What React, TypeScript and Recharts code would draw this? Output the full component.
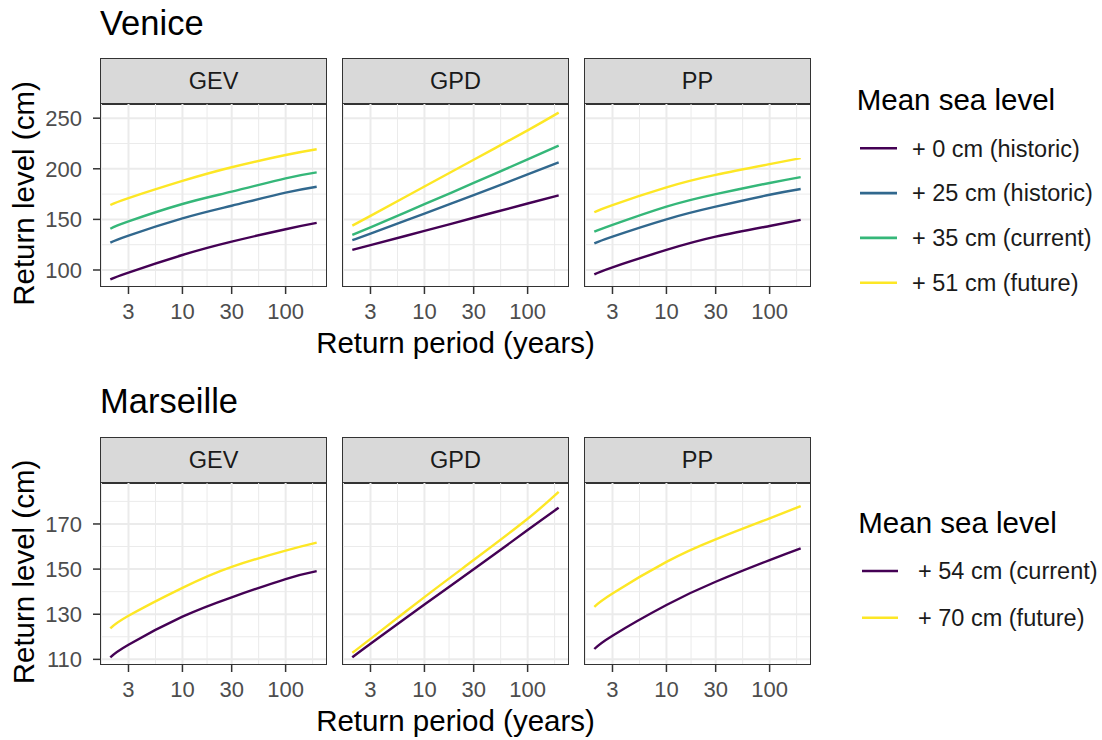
import React from 'react';
import { LineChart, Line, XAxis, YAxis, ReferenceLine } from 'recharts';

// ---------- data ----------
const returnPeriods = [2, 3, 10, 30, 100, 200];
const xTicks = [3, 10, 30, 100];
const facets = ['GEV', 'GPD', 'PP'];

// Venice
const veniceLabels = ['+ 0 cm (historic)', '+ 25 cm (historic)', '+ 35 cm (current)', '+ 51 cm (future)'];
const veniceColors = ['#440154', '#31688E', '#35B779', '#FDE725'];
const veniceGEV0 = [90.8, 97.5, 114.8, 128.0, 140.3, 146.5];
const veniceGEV25 = [127.0, 134.0, 151.0, 163.5, 176.4, 182.3];
const veniceGEV35 = [140.8, 148.0, 165.2, 177.4, 190.6, 196.5];
const veniceGEV51 = [164.2, 171.0, 188.0, 201.5, 213.6, 219.3];
const veniceGPD0 = [119.8, 124.6, 138.6, 151.6, 165.7, 173.8];
const veniceGPD25 = [129.6, 136.0, 155.8, 173.9, 194.5, 206.4];
const veniceGPD35 = [134.6, 142.2, 165.0, 186.0, 209.3, 222.9];
const veniceGPD51 = [143.8, 153.5, 182.5, 208.9, 238.0, 255.5];
const venicePP0 = [95.7, 102.7, 119.8, 132.9, 143.5, 149.5];
const venicePP25 = [126.3, 133.0, 150.1, 162.6, 174.3, 180.0];
const venicePP35 = [137.8, 144.5, 162.6, 175.0, 186.0, 191.8];
const venicePP51 = [157.0, 164.2, 181.7, 194.0, 204.6, 210.6];
const veniceYTicks = [100, 150, 200, 250];
const veniceYMinor = [125, 175, 225];
const veniceYDomain: [number, number] = [83.2, 265.0];

// Marseille
const marseilleLabels = ['+ 54 cm (current)', '+ 70 cm (future)'];
const marseilleColors = ['#440154', '#FDE725'];
const marseilleGEV54 = [110.9, 116.5, 128.9, 137.5, 145.6, 149.1];
const marseilleGEV70 = [123.7, 129.3, 141.7, 151.0, 158.2, 161.7];
const marseilleGPD54 = [110.9, 116.9, 134.3, 149.9, 167.3, 177.2];
const marseilleGPD70 = [112.9, 119.1, 137.6, 154.0, 172.3, 184.2];
const marseillePP54 = [114.6, 120.5, 134.1, 144.4, 154.0, 159.2];
const marseillePP70 = [133.3, 139.2, 153.2, 163.2, 172.5, 177.9];
const marseilleYTicks = [110, 130, 150, 170];
const marseilleYMinor = [120, 140, 160, 180];
const marseilleYDomain: [number, number] = [107.5, 188.6];

// ---------- helpers ----------
const X_DOMAIN: [number, number] = [1.5887, 251.79];
const extTicks = [(xTicks[0] * xTicks[0]) / xTicks[1], ...xTicks, (xTicks[xTicks.length - 1] ** 2) / xTicks[xTicks.length - 2]];
const xMinor = extTicks.slice(0, -1).map((v, i) => Math.sqrt(v * extTicks[i + 1]));

function buildTable(series: number[][]) {
  return returnPeriods.map((t, i) => {
    const row: Record<string, number> = { t };
    series.forEach((s, k) => {
      row['s' + k] = s[i];
    });
    return row;
  });
}

const veniceTables = [
  buildTable([veniceGEV0, veniceGEV25, veniceGEV35, veniceGEV51]),
  buildTable([veniceGPD0, veniceGPD25, veniceGPD35, veniceGPD51]),
  buildTable([venicePP0, venicePP25, venicePP35, venicePP51]),
];
const marseilleTables = [
  buildTable([marseilleGEV54, marseilleGEV70]),
  buildTable([marseilleGPD54, marseilleGPD70]),
  buildTable([marseillePP54, marseillePP70]),
];

// ---------- layout ----------
const FONT = '"Liberation Sans", Arial, "DejaVu Sans", sans-serif';
const PANEL_LEFTS = [100, 342, 584];
const PANEL_W = 227;
const STRIP_H = 45;
const Y_AXIS_W = 100;
const X_AXIS_H = 45;

type PanelProps = {
  x: number;
  y: number;
  h: number;
  strip: string;
  data: Record<string, number>[];
  colors: string[];
  yDomain: [number, number];
  yTicks: number[];
  yMinor: number[];
  showY: boolean;
};

function FacetPanel({ x, y, h, strip, data, colors, yDomain, yTicks, yMinor, showY }: PanelProps) {
  const yW = showY ? Y_AXIS_W : 0;
  const w = PANEL_W;
  return (
    <>
      <div
        style={{
          position: 'absolute',
          left: x,
          top: y - STRIP_H,
          width: w,
          height: STRIP_H + 1.5,
          background: '#D9D9D9',
          border: '1.5px solid #333333',
          boxSizing: 'border-box',
          display: 'flex',
          alignItems: 'center',
          justifyContent: 'center',
          fontSize: 23.5,
          color: '#1A1A1A',
        }}
      >
        {strip}
      </div>
      <div style={{ position: 'absolute', left: x - yW, top: y }}>
        <LineChart width={w + yW} height={h + X_AXIS_H} data={data} margin={{ top: 0, right: 0, bottom: 0, left: 0 }}>
          <XAxis
            dataKey="t"
            type="number"
            scale="log"
            domain={X_DOMAIN}
            allowDataOverflow
            ticks={xTicks}
            interval={0}
            height={X_AXIS_H}
            axisLine={false}
            tickLine={{ stroke: '#333333', strokeWidth: 1.5 }}
            tickSize={7}
            tickMargin={9}
            tick={{ fill: '#4D4D4D', fontSize: 22, fontFamily: FONT }}
          />
          <YAxis
            type="number"
            domain={yDomain}
            allowDataOverflow
            ticks={yTicks}
            interval={0}
            hide={!showY}
            width={Y_AXIS_W}
            axisLine={false}
            tickLine={{ stroke: '#333333', strokeWidth: 1.5 }}
            tickSize={7}
            tickMargin={11}
            tick={{ fill: '#4D4D4D', fontSize: 22, fontFamily: FONT }}
          />
          {yMinor.map((v) => (
            <ReferenceLine key={'ym' + v} y={v} stroke="#EBEBEB" strokeWidth={1} />
          ))}
          {xMinor.map((v) => (
            <ReferenceLine key={'xm' + v} x={v} stroke="#EBEBEB" strokeWidth={1} />
          ))}
          {yTicks.map((v) => (
            <ReferenceLine key={'yM' + v} y={v} stroke="#EBEBEB" strokeWidth={2} />
          ))}
          {xTicks.map((v) => (
            <ReferenceLine key={'xM' + v} x={v} stroke="#EBEBEB" strokeWidth={2} />
          ))}
          {colors.map((c, i) => (
            <Line
              key={'s' + i}
              dataKey={'s' + i}
              type="natural"
              stroke={c}
              strokeWidth={2.4}
              dot={false}
              activeDot={false}
              isAnimationActive={false}
            />
          ))}
        </LineChart>
      </div>
      <div
        style={{
          position: 'absolute',
          left: x,
          top: y,
          width: w,
          height: h,
          border: '1.5px solid #333333',
          boxSizing: 'border-box',
          pointerEvents: 'none',
        }}
      />
    </>
  );
}

type RowProps = {
  title: string;
  titleBaseline: number;
  panelTop: number;
  panelH: number;
  tables: Record<string, number>[][];
  colors: string[];
  labels: string[];
  yDomain: [number, number];
  yTicks: number[];
  yMinor: number[];
  legend: { titleX: number; titleBaseline: number; firstY: number; step: number; keyX1: number; keyX2: number; textX: number };
};

function FacetRow(p: RowProps) {
  const xTitleBaseline = p.panelTop + p.panelH + 66;
  const yTitleCenter = p.panelTop + p.panelH / 2 - 1.5;
  return (
    <>
      <svg width={1102} height={740} style={{ position: 'absolute', left: 0, top: 0, pointerEvents: 'none', overflow: 'visible' }}>
        <text x={100} y={p.titleBaseline} fontSize={34.5} fill="#000000" fontFamily={FONT}>
          {p.title}
        </text>
        <text x={455.5} y={xTitleBaseline} fontSize={29.5} fill="#000000" textAnchor="middle" fontFamily={FONT}>
          Return period (years)
        </text>
        <text
          x={23.3}
          y={yTitleCenter}
          fontSize={29.5}
          fill="#000000"
          textAnchor="middle"
          dominantBaseline="central"
          transform={`rotate(-90, 23.3, ${yTitleCenter})`}
          fontFamily={FONT}
        >
          Return level (cm)
        </text>
        <text x={p.legend.titleX} y={p.legend.titleBaseline} fontSize={29.5} fill="#000000" fontFamily={FONT}>
          Mean sea level
        </text>
        {p.labels.map((lab, i) => {
          const cy = p.legend.firstY + i * p.legend.step;
          return (
            <g key={lab}>
              <line x1={p.legend.keyX1} x2={p.legend.keyX2} y1={cy} y2={cy} stroke={p.colors[i]} strokeWidth={2.6} />
              <text x={p.legend.textX} y={cy + 8.3} fontSize={23.5} fill="#1A1A1A" fontFamily={FONT}>
                {lab}
              </text>
            </g>
          );
        })}
      </svg>
      {facets.map((f, i) => (
        <FacetPanel
          key={f}
          x={PANEL_LEFTS[i]}
          y={p.panelTop}
          h={p.panelH}
          strip={f}
          data={p.tables[i]}
          colors={p.colors}
          yDomain={p.yDomain}
          yTicks={p.yTicks}
          yMinor={p.yMinor}
          showY={i === 0}
        />
      ))}
    </>
  );
}

export default function App() {
  return (
    <div
      style={{
        position: 'absolute',
        left: 0,
        top: 0,
        width: 1102,
        height: 740,
        background: '#FFFFFF',
        fontFamily: FONT,
        overflow: 'hidden',
      }}
    >
      <FacetRow
        title="Venice"
        titleBaseline={35}
        panelTop={103}
        panelH={184}
        tables={veniceTables}
        colors={veniceColors}
        labels={veniceLabels}
        yDomain={veniceYDomain}
        yTicks={veniceYTicks}
        yMinor={veniceYMinor}
        legend={{ titleX: 856.7, titleBaseline: 109.5, firstY: 148.3, step: 44.8, keyX1: 860, keyX2: 897, textX: 912 }}
      />
      <FacetRow
        title="Marseille"
        titleBaseline={412.5}
        panelTop={482}
        panelH={183}
        tables={marseilleTables}
        colors={marseilleColors}
        labels={marseilleLabels}
        yDomain={marseilleYDomain}
        yTicks={marseilleYTicks}
        yMinor={marseilleYMinor}
        legend={{ titleX: 858.3, titleBaseline: 533, firstY: 571, step: 46.7, keyX1: 862, keyX2: 898, textX: 918 }}
      />
    </div>
  );
}
